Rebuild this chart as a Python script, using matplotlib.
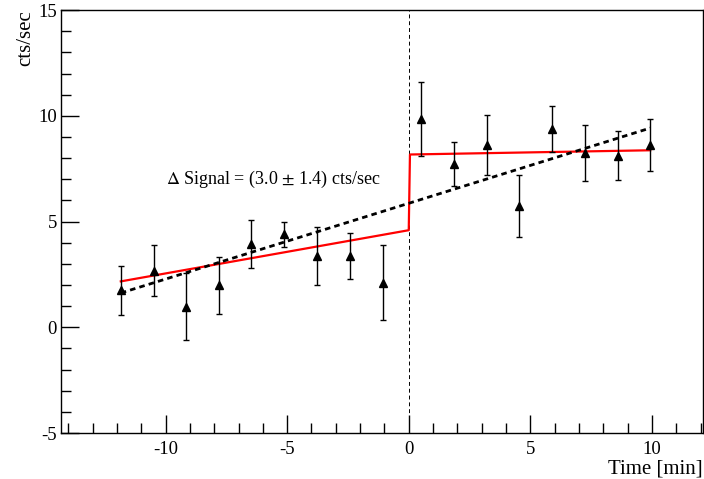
import numpy as np
import matplotlib.pyplot as plt
from matplotlib.ticker import MultipleLocator

plt.rcParams['font.family'] = ['Liberation Serif', 'DejaVu Serif']
plt.rcParams['mathtext.fontset'] = 'stix'
plt.rcParams['axes.unicode_minus'] = False

# 데이터
t = [-11.84, -10.49, -9.16, -7.82, -6.47, -5.13, -3.77, -2.41, -1.07,
     0.52, 1.87, 3.21, 4.55, 5.90, 7.24, 8.59, 9.93]
rate = [1.74, 2.68, 0.98, 1.99, 3.93, 4.39, 3.36, 3.36, 2.11,
        9.87, 7.73, 8.62, 5.74, 9.38, 8.24, 8.11, 8.62]
err = [1.17, 1.2, 1.6, 1.35, 1.15, 0.6, 1.37, 1.1, 1.78,
       1.75, 1.03, 1.42, 1.45, 1.09, 1.31, 1.16, 1.21]

# 빨간 fit (step)
step_t = [-11.84, 0.0, 0.05, 9.93]
step_y = [2.17, 4.59, 8.17, 8.37]

# 검은 점선 fit (직선)
lin_t = [-11.84, 9.93]
lin_y = [1.62, 9.42]

fig = plt.figure(figsize=(7.04, 4.79), dpi=100)
ax = fig.add_axes([0.0866, 0.096, 0.912, 0.883])

ax.axvline(0, color='black', lw=0.7, ls=(0, (4, 3)))
ax.plot(step_t, step_y, color='red', lw=1.6)
ax.plot(lin_t, lin_y, color='black', lw=2, ls=(0, (2, 1.5)))
ax.errorbar(t, rate, yerr=err, fmt='^', color='black', ms=5.5,
            ecolor='black', elinewidth=1, capsize=2, capthick=1)

ax.text(-10.0, 7.0, r'$\Delta$ Signal = (3.0 $\pm$ 1.4) cts/sec',
        fontsize=13, va='center', ha='left')

ax.set_xlim(-14.3, 12.1)
ax.set_ylim(-5, 15)
ax.xaxis.set_major_locator(MultipleLocator(5))
ax.xaxis.set_minor_locator(MultipleLocator(1))
ax.yaxis.set_major_locator(MultipleLocator(5))
ax.yaxis.set_minor_locator(MultipleLocator(1))
ax.tick_params(which='both', direction='in', top=False, right=False,
               labelsize=13.5, width=1)
ax.tick_params(which='major', length=13)
ax.tick_params(which='minor', length=7)
ax.tick_params(axis='x', pad=6)
ax.tick_params(axis='y', pad=3)
for s in ax.spines.values():
    s.set_linewidth(1)

ax.set_xlabel('Time [min]', fontsize=15, loc='right', labelpad=1)
ax.set_ylabel('cts/sec', fontsize=15, loc='top', labelpad=2)

fig.savefig('out.png', dpi=100)
